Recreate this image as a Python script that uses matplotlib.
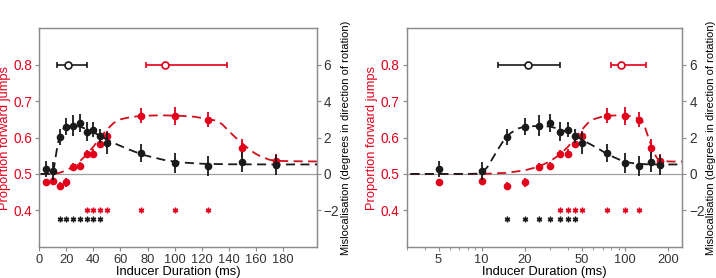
# inducer duration: proportion forward jumps (red) and mislocalisation (black)
import numpy as np
import matplotlib.pyplot as plt
from matplotlib.ticker import FixedLocator, NullFormatter, FuncFormatter

plt.rcParams['font.family'] = ['Liberation Sans', 'DejaVu Sans']
plt.rcParams['font.size'] = 9.3

# DATI
dur = [5, 10, 15, 20, 25, 30, 35, 40, 45, 50, 75, 100, 125, 150, 175]
jumps = [0.477, 0.481, 0.468, 0.477, 0.520, 0.522, 0.555, 0.556, 0.583, 0.603,
         0.660, 0.660, 0.649, 0.572, 0.535]
jumps_err = [0.010, 0.010, 0.010, 0.012, 0.010, 0.012, 0.012, 0.012, 0.012, 0.015,
             0.020, 0.025, 0.020, 0.025, 0.020]
misloc = [0.28, 0.17, 2.02, 2.60, 2.66, 2.79, 2.33, 2.44, 2.09, 1.71,
          1.14, 0.59, 0.44, 0.66, 0.48]
misloc_err = [0.45, 0.50, 0.45, 0.45, 0.60, 0.50, 0.50, 0.40, 0.40, 0.60,
              0.50, 0.55, 0.55, 0.55, 0.55]

# fitted curves
fit_r_x = [1, 5, 10, 15, 20, 25, 30, 35, 40, 45, 50, 55, 60, 67, 77, 90, 103, 115,
           125, 130, 135, 140, 145, 150, 155, 160, 165, 170, 175, 185, 210, 250]
fit_r_y = [0.5, 0.5, 0.5, 0.503, 0.51, 0.52, 0.535, 0.553, 0.575, 0.6, 0.622, 0.64,
           0.65, 0.656, 0.66, 0.661, 0.66, 0.657, 0.65, 0.647, 0.637, 0.618, 0.6,
           0.584, 0.568, 0.555, 0.546, 0.539, 0.536, 0.535, 0.534, 0.534]
fit_k_x = [1, 5, 8, 10, 11, 12, 13, 14, 15, 16, 18, 20, 25, 30, 35, 40, 45, 50, 55,
           60, 67, 77, 92, 103, 120, 140, 175, 210, 250]
fit_k_y = [0, 0, 0, 0.02, 0.4, 0.9, 1.36, 1.76, 2.06, 2.26, 2.5, 2.6, 2.64, 2.6,
           2.46, 2.28, 2.1, 1.88, 1.7, 1.54, 1.32, 1.04, 0.77, 0.64, 0.56, 0.53,
           0.52, 0.52, 0.52]

# significance
sig_r = [35, 40, 45, 50, 75, 100, 125]
sig_k = [15, 20, 25, 30, 35, 40, 45]

# summary (peak and range)
peak_k, lo_k, hi_k = 21, 13, 35
peak_r, lo_r, hi_r = 93, 79, 139

# PARAMETRI
red = '#e2001a'
blk = '#1a1a1a'
grey = '#8c8c8c'
size = (7.16, 2.78)
my_dpi = 100


def panel(rect, logx):
    ax = fig.add_axes(rect)
    ax2 = ax.twinx()
    ax.axhline(0.5, color='#a0a0a0', lw=0.9, zorder=0)
    ax.plot(fit_r_x, fit_r_y, '--', color='#d0101c', lw=1.3, dashes=(5, 3), zorder=1)
    ax.errorbar(dur, jumps, yerr=jumps_err, fmt='o', color=red, ms=4.5,
                elinewidth=1.3, capsize=0, zorder=2)
    ax.plot(sig_r, [0.4] * len(sig_r), ls='none', marker=(6, 2, 0), ms=4,
            mew=1.0, color=red)
    ax.plot(sig_k, [0.375] * len(sig_k), ls='none', marker=(6, 2, 0), ms=4,
            mew=1.0, color=blk)
    ax.errorbar([peak_k], [0.8], xerr=[[peak_k - lo_k], [hi_k - peak_k]], fmt='o',
                mfc='white', mec=blk, color=blk, ms=5, mew=1.2, elinewidth=1.2,
                capsize=2.5, capthick=1.2)
    ax.errorbar([peak_r], [0.8], xerr=[[peak_r - lo_r], [hi_r - peak_r]], fmt='o',
                mfc='white', mec=red, color=red, ms=5, mew=1.2, elinewidth=1.2,
                capsize=2.5, capthick=1.2)
    ax2.plot(fit_k_x, fit_k_y, '--', color=blk, lw=1.3, dashes=(5, 3), zorder=1)
    ax2.errorbar(dur, misloc, yerr=misloc_err, fmt='o', color=blk, ms=4.5,
                 elinewidth=1.3, capsize=0, zorder=2)

    ax.set_ylim(0.3, 0.9)
    ax2.set_ylim(-4, 8)
    ax.set_yticks([0.4, 0.5, 0.6, 0.7, 0.8])
    ax2.set_yticks([-2, 0, 2, 4, 6])
    if logx:
        ax.set_xscale('log')
        ax.set_xlim(3, 250)
        ax.xaxis.set_major_locator(FixedLocator([5, 10, 20, 50, 100, 200]))
        ax.xaxis.set_major_formatter(FuncFormatter(lambda v, p: '%d' % v))
        ax.xaxis.set_minor_formatter(NullFormatter())
    else:
        ax.set_xlim(0, 205)
        ax.set_xticks(range(0, 181, 20))
    ax.set_xlabel('Inducer Duration (ms)', labelpad=0)
    ax.set_ylabel('Proportion forward jumps', color=red, labelpad=2)
    ax2.set_ylabel('Mislocalisation (degrees in direction of rotation)',
                   fontsize=8.0, labelpad=1)
    ax.tick_params(axis='y', colors=grey, labelcolor=red, length=3, pad=2,
                   labelsize=9.8)
    ax.tick_params(axis='x', colors=grey, labelcolor='#333333', length=3, pad=2,
                   labelsize=9.3)
    ax.tick_params(axis='x', which='minor', colors=grey, length=2)
    ax2.tick_params(axis='y', colors=grey, labelcolor='#333333', length=3, pad=2,
                    labelsize=9.8)
    for a in (ax, ax2):
        for s in a.spines.values():
            s.set_color(grey)
            s.set_linewidth(0.9)
    return ax, ax2


fig = plt.figure(figsize=size, dpi=my_dpi)
panel([0.0549, 0.1126, 0.3874, 0.7854], False)
panel([0.5680, 0.1126, 0.3850, 0.7854], True)
fig.savefig('out.png', dpi=my_dpi)
